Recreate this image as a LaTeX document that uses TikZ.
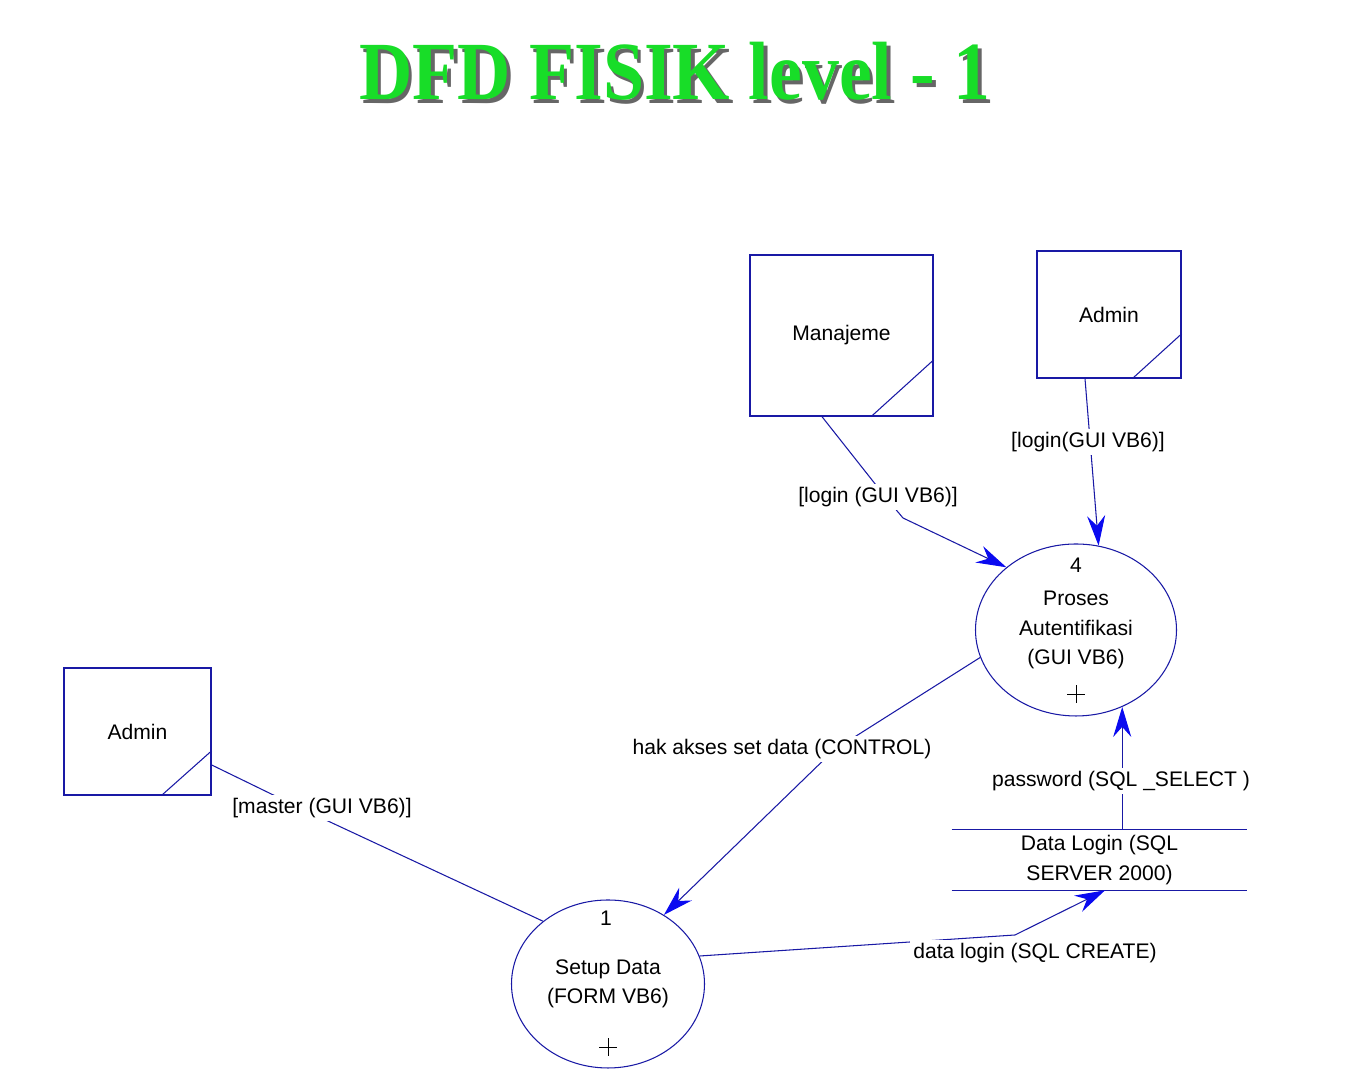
\documentclass[tikz,border=0pt]{standalone}
\usepackage{fontspec}
\setmainfont{Liberation Sans}
\newfontfamily\titlefont{Liberation Serif}
\usetikzlibrary{shapes.geometric,arrows.meta,calc}

\definecolor{dfdline}{RGB}{25,25,165}
\definecolor{dfdarrow}{RGB}{10,10,240}
\definecolor{dfdgreen}{RGB}{24,221,40}

\begin{document}
\begin{tikzpicture}[
    txt/.style={font=\fontsize{12}{16.8}\selectfont},
    entity/.style={txt, draw=dfdline, line width=0.8pt},
    process/.style={txt, ellipse, draw=dfdline, line width=0.6pt, inner sep=0pt, align=center},
    store/.style={txt, inner sep=0pt, align=center},
    conn/.style={draw=dfdline, line width=0.6pt},
    flow/.style={conn, -{Stealth[length=0.6cm, width=0.36cm, inset=0.2cm, color=dfdarrow]}},
    lbl/.style={txt, fill=white, inner sep=2pt}
  ]
		\fill[white] (0,0) rectangle (27.04,21.46);
		\useasboundingbox (0,0) rectangle (27.04,21.46);

		% title with its shadow
		\node[anchor=base, text=black!60, font=\titlefont\bfseries\fontsize{42}{42}\selectfont] (shadow) at (13.57,19.39) {\scalebox{1}[1.12]{DFD FISIK level - 1}};
		\node[anchor=base, text=dfdgreen, font=\titlefont\bfseries\fontsize{42}{42}\selectfont] (title) at (13.5,19.46) {\scalebox{1}[1.12]{DFD FISIK level - 1}};

		% external entities
		\node[entity, minimum width=3.66cm, minimum height=3.22cm] (man) at (16.83,14.75) {Manajeme};
		\node[entity, minimum width=2.88cm, minimum height=2.54cm] (admt) at (22.18,15.17) {Admin};
		\node[entity, minimum width=2.94cm, minimum height=2.54cm] (adml) at (2.75,6.83) {Admin};
		\foreach \e in {man,admt,adml}
		\draw [dfdline, line width=0.6pt] ($(\e.south east)!0.34!(\e.south west)$) -- ($(\e.south east)!0.35!(\e.north east)$);

		% processes
		\node[process, minimum width=4.02cm, minimum height=3.44cm] (p4) at (21.52,8.86) {Proses\\Autentifikasi\\(GUI VB6)};
		\node[process, minimum width=3.86cm, minimum height=3.36cm] (p1) at (12.16,1.78) {Setup Data\\(FORM VB6)};
		\node[txt] (n4) at ($(p4)+(0,1.30)$) {4};
		\node[txt] (n1) at ($(p1)+(-0.04,1.32)$) {1};
		\foreach \p/\d in {p4/-1.28, p1/-1.26}
		\draw [black, line width=0.5pt] ($(\p)+(-0.18,\d)$) -- ($(\p)+(0.18,\d)$) ($(\p)+(0,\d-0.18)$) -- ($(\p)+(0,\d+0.18)$);

		% data store
		\node[store, minimum width=5.9cm, minimum height=1.2cm] (ds) at (21.99,4.26) {Data Login (SQL\\SERVER 2000)};
		\draw [dfdline, line width=0.8pt] (ds.north west) -- (ds.north east) (ds.south west) -- (ds.south east);

		% bends of the flows
		\coordinate (wman) at (17.74,11.48);
		\coordinate (wman2) at (18.06,11.10);
		\coordinate (whak) at (16.68,6.46);
		\coordinate (wmas) at (6.0,5.30);
		\coordinate (wdl) at (20.30,2.76);

		\draw [flow] ($(man.south)+(-0.39,0)$) -- (wman) -- (wman2) -- (p4.138);
		\draw [flow] ($(admt.south)+(-0.48,0)$) -- (p4.75);
		\draw [flow] (p4.196) -- (whak) -- (p1.51);
		\draw [conn] ($(adml.east)+(0,-0.67)$) -- (wmas) -- (p1.136);
		\draw [flow] (p1.17) -- (wdl) -- ($(ds.south)+(0.11,0)$);
		\draw [flow] (ds.north -| p4.301) -- (p4.301);

		% flow labels
		\node[lbl] (lman) at (17.56,11.52) {[login (GUI VB6)]};
		\node[lbl] (ladm) at (21.76,12.62) {[login(GUI VB6)]};
		\node[lbl] (lhak) at (15.64,6.48) {hak akses set data (CONTROL)};
		\node[lbl] (lmas) at (6.44,5.30) {[master (GUI VB6)]};
		\node[lbl] (lpw) at (22.42,5.84) {password (SQL \_SELECT )};
		\node[lbl] (ldl) at (20.70,2.40) {data login (SQL CREATE)};
\end{tikzpicture}
\end{document}
